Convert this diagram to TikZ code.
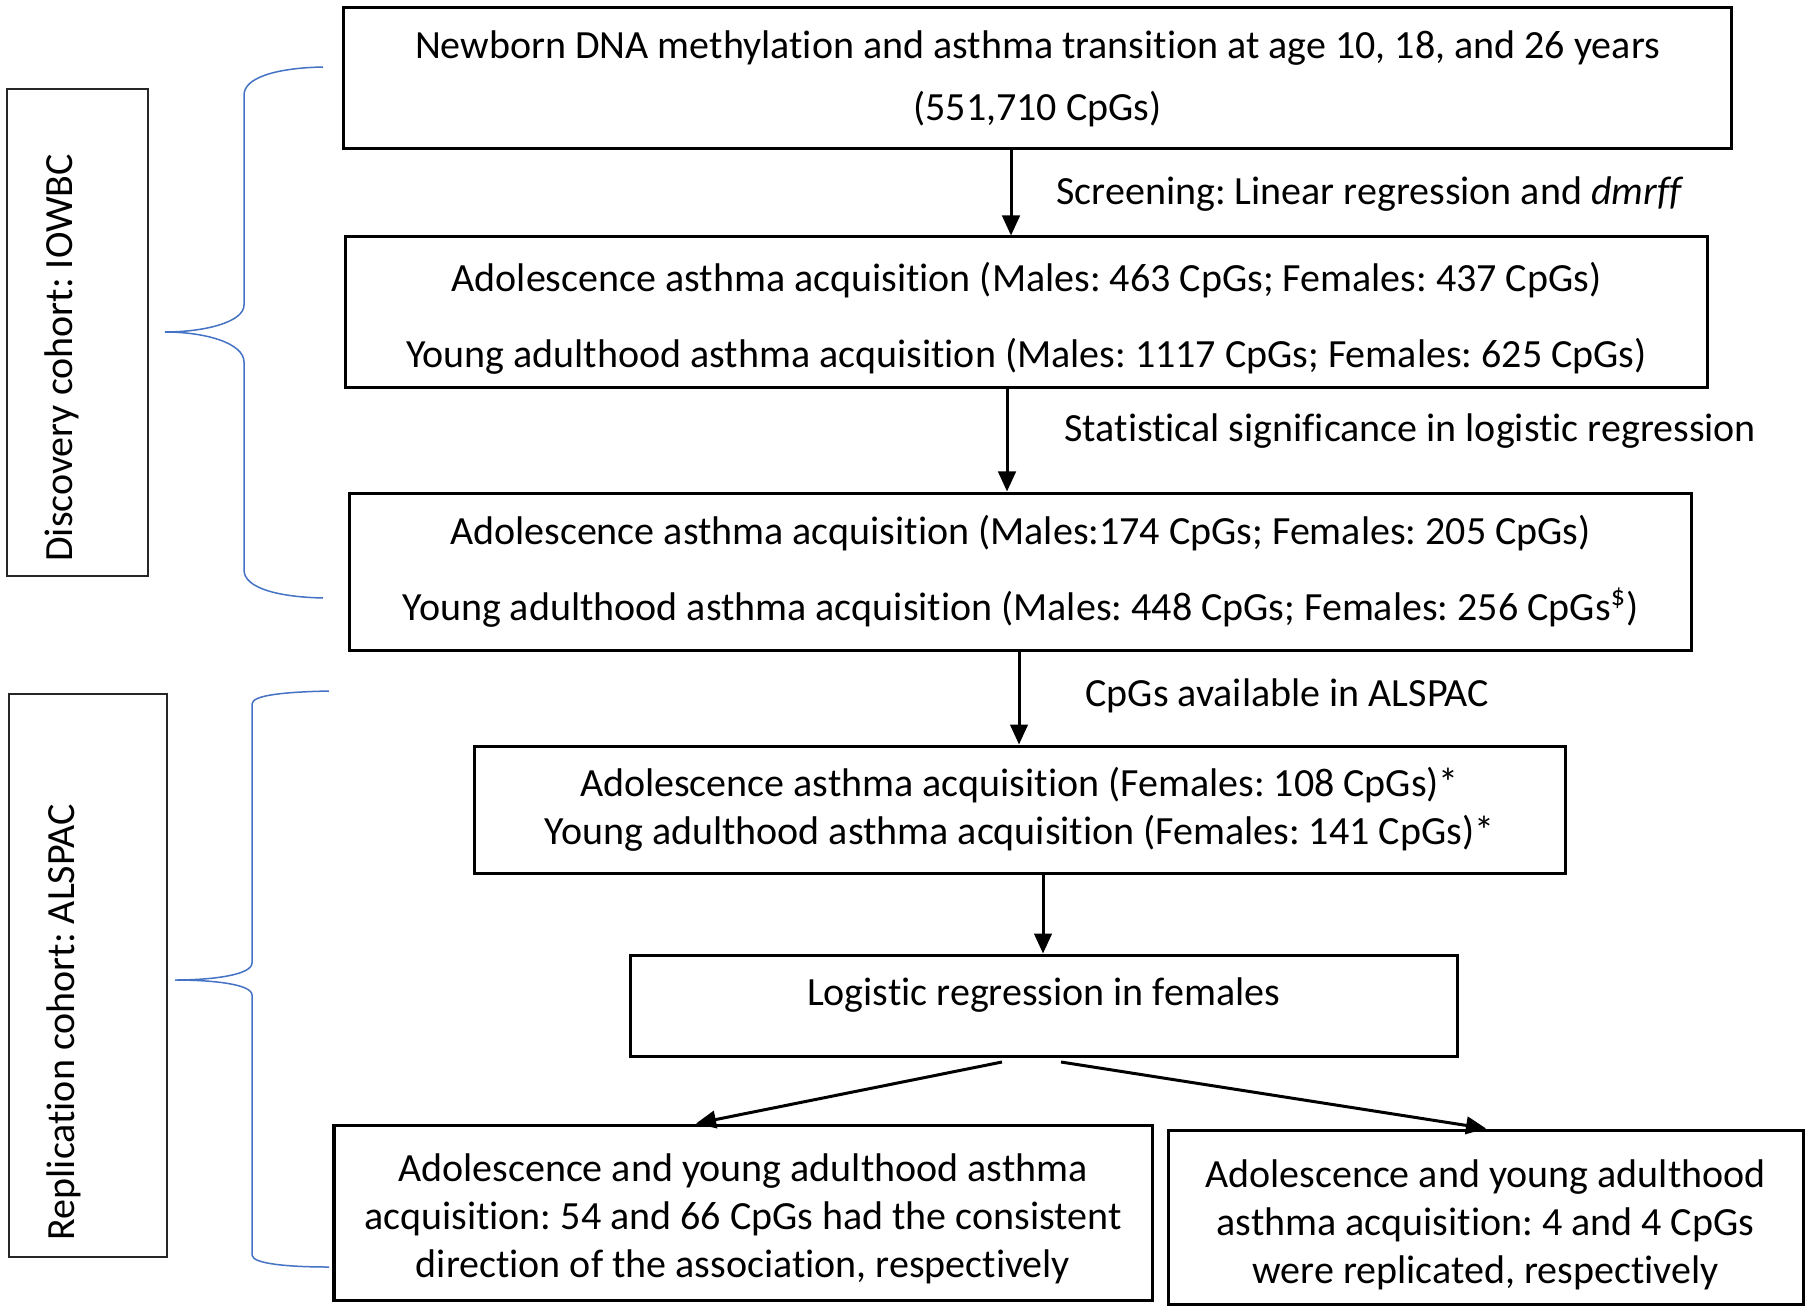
\documentclass[tikz,border=0pt]{standalone}
\usepackage{fontspec}
\setmainfont{Carlito}[Ligatures={NoCommon}]
\usetikzlibrary{arrows.meta,calc}
\definecolor{braceblue}{RGB}{68,114,196}
\frenchspacing
\newcommand{\topstrut}[1]{\rule{0pt}{#1}}
\begin{document}
\begin{tikzpicture}[x=0.4pt,y=-0.4pt,
  flowbox/.style={draw=black,line width=1.2pt,inner sep=0pt,align=center,font=\fontsize{16}{19.2}\selectfont},
  wide/.style={font=\fontsize{16}{30.4}\selectfont},
  mid/.style={font=\fontsize{16}{24.8}\selectfont},
  sidebox/.style={draw=black!85,line width=0.8pt,inner sep=0pt},
  sidetext/.style={rotate=90,font=\fontsize{16}{19}\selectfont,inner sep=0pt},
  lbl/.style={anchor=west,inner sep=0pt,font=\fontsize{16}{19}\selectfont},
  arr/.style={line width=1.2pt,-{Triangle[length=8pt,width=7pt]}},
  bracepath/.style={draw=braceblue,line width=0.6pt}]
\useasboundingbox (0,0) rectangle (1810,1311);

\node[flowbox,mid,minimum width=554.8pt,minimum height=56.4pt] (b1) at (1037.5,78.5)
  {Newborn DNA methylation and asthma transition at age 10, 18, and 26 years\\(551,710 CpGs)};
\node[flowbox,wide,minimum width=544.4pt,minimum height=60pt] (b2) at (1026.5,312)
  {\topstrut{17pt}Adolescence asthma acquisition (Males: 463 CpGs; Females: 437 CpGs)\\Young adulthood asthma acquisition (Males: 1117 CpGs; Females: 625 CpGs)};
\node[flowbox,wide,minimum width=536.4pt,minimum height=62.8pt] (b3) at (1020.5,571.5)
  {Adolescence asthma acquisition (Males:174 CpGs; Females: 205 CpGs)\\Young adulthood asthma acquisition (Males: 448 CpGs; Females: 256 CpGs\textsuperscript{\$})};
\node[flowbox,minimum width=436.4pt,minimum height=50.8pt] (b4) at (1019.5,809.5)
  {Adolescence asthma acquisition (Females: 108 CpGs)*\\Young adulthood asthma acquisition (Females: 141 CpGs)*};
\node[flowbox,minimum width=330.8pt,minimum height=40.4pt] (b5) at (1043.5,1005.5)
  {\smash{Logistic regression in females}};
\node[flowbox,minimum width=327.2pt,minimum height=70pt] (b6) at (743,1212.5)
  {\topstrut{16pt}Adolescence and young adulthood asthma\\acquisition: 54 and 66 CpGs had the consistent\\direction of the association, respectively};
\node[flowbox,minimum width=254pt,minimum height=69.6pt] (b7) at (1485.5,1217)
  {\topstrut{17pt}Adolescence and young adulthood\\asthma acquisition: 4 and 4 CpGs\\were replicated, respectively};

\node[sidebox,minimum width=56.4pt,minimum height=194.8pt] (s1) at (77.5,332.5) {};
\node[sidetext] (s1t) at (62,358) {Discovery cohort: IOWBC};
\node[sidebox,minimum width=63.2pt,minimum height=225.2pt] (s2) at (88,975.5) {};
\node[sidetext] (s2t) at (64,1022) {Replication cohort: ALSPAC};

\draw[arr] (1011,0 |- b1.south) -- (1011,0 |- b2.north);
\draw[arr] (1007,0 |- b2.south) -- (1007,0 |- b3.north);
\draw[arr] (1019,0 |- b3.south) -- (1019,0 |- b4.north);
\draw[arr] (1043,0 |- b4.south) -- (1043,0 |- b5.north);
\draw[arr] (1002,1062) -- (696,0 |- b6.north);
\draw[arr] (1061,1062) -- (1486,0 |- b7.north);

\node[lbl] (l1) at (1056,194) {Screening: Linear regression and \textit{dmrff}};
\node[lbl] (l2) at (1064,431) {Statistical significance in logistic regression};
\node[lbl] (l3) at (1085,696) {CpGs available in ALSPAC};

\path[bracepath] (323,67) .. controls (275,68) and (244,78) .. (244,95) -- (244,305)
  .. controls (244,322) and (205,332) .. (165,332)
  .. controls (205,332) and (244,343) .. (244,362) -- (244,570)
  .. controls (244,588) and (278,597) .. (323,598);
\path[bracepath] (329,691) .. controls (285,692) and (252,695) .. (252,704) -- (252,963)
  .. controls (252,975) and (212,980) .. (175,980)
  .. controls (212,980) and (252,984) .. (252,995) -- (252,1255)
  .. controls (252,1264) and (290,1267) .. (329,1267);
\end{tikzpicture}
\end{document}
